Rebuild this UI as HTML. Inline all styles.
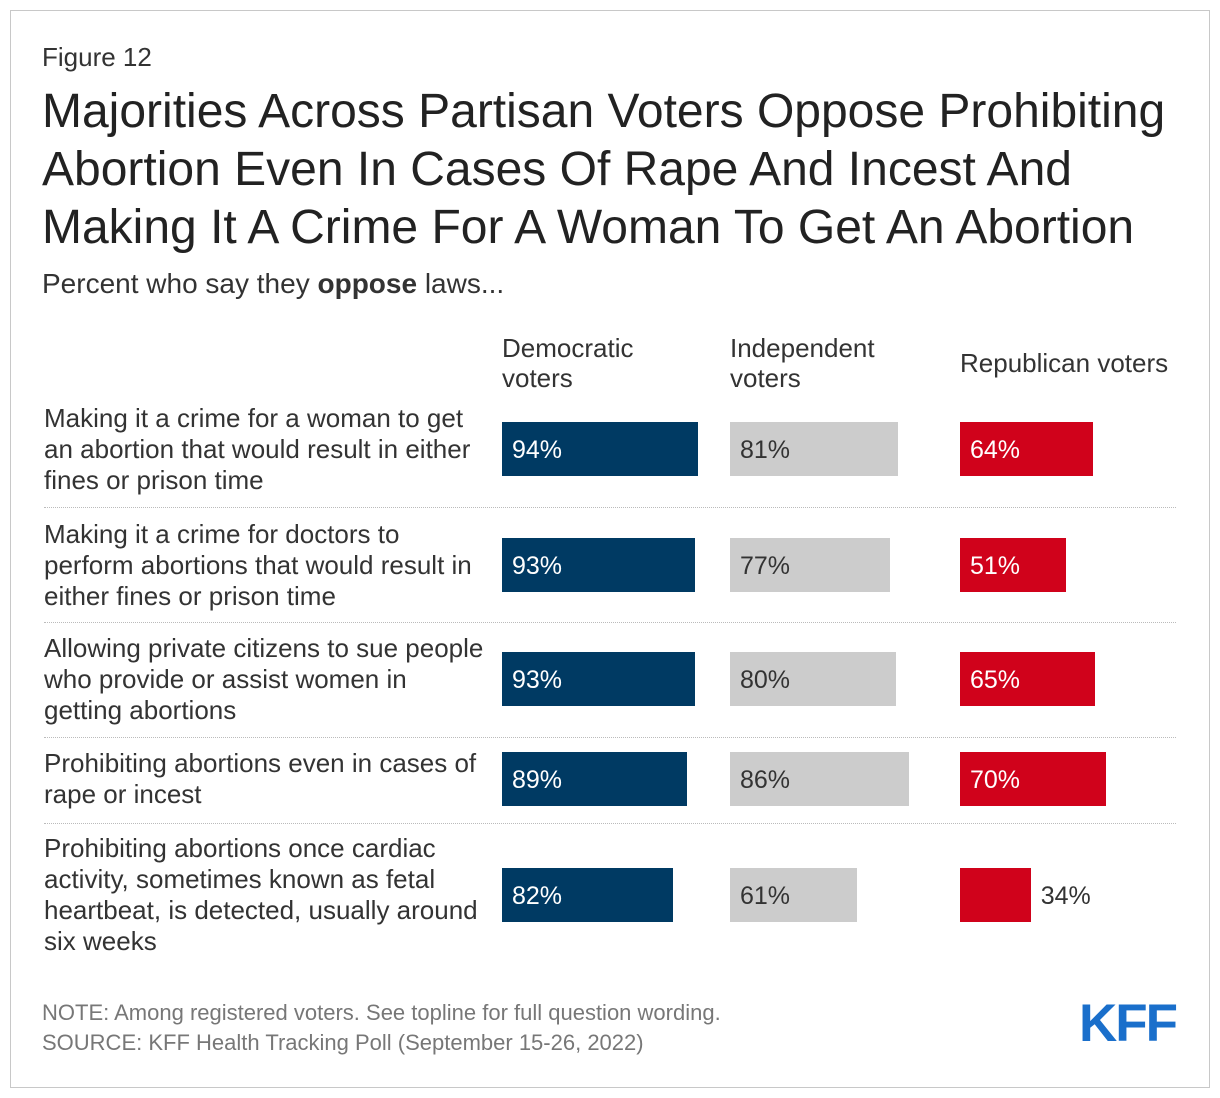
<!DOCTYPE html>
<html><head><meta charset="utf-8">
<style>
body{margin:0;background:#fff;font-family:"Liberation Sans",sans-serif;}
#frame{position:absolute;left:10px;top:10px;width:1198px;height:1076px;border:1px solid #c8c8c8;}
.t{position:absolute;color:#333;white-space:nowrap;}
.lab{position:absolute;left:44px;font-size:26px;line-height:31px;color:#333;white-space:nowrap;}
.bar{position:absolute;height:54px;}
.val{position:absolute;font-size:25px;line-height:54px;}
.sep{position:absolute;left:44px;width:1132px;border-top:1px dotted #bbb;height:0;}
</style></head><body>
<div id="frame"></div>
<div class="t" style="left:42px;top:42px;font-size:26px;">Figure 12</div>
<div class="t" style="left:42px;top:83px;font-size:48px;line-height:58px;color:#222;">Majorities Across Partisan Voters Oppose Prohibiting<br>Abortion Even In Cases Of Rape And Incest And<br>Making It A Crime For A Woman To Get An Abortion</div>
<div class="t" style="left:42px;top:268px;font-size:28px;">Percent who say they <b>oppose</b> laws...</div>
<div class="t" style="left:502px;top:333px;font-size:26px;line-height:30px;">Democratic<br>voters</div>
<div class="t" style="left:730px;top:333px;font-size:26px;line-height:30px;">Independent<br>voters</div>
<div class="t" style="left:960px;top:348px;font-size:26px;line-height:30px;">Republican voters</div>
<div id="chart"></div>
<div class="t" style="left:42px;top:998px;font-size:22px;line-height:30px;color:#777;">NOTE: Among registered voters. See topline for full question wording.<br>SOURCE: KFF Health Tracking Poll (September 15-26, 2022)</div>
<div class="t" style="left:1079px;top:993px;font-size:53px;font-weight:bold;color:#1a6fcb;letter-spacing:-2px;">KFF</div>
<script>
const categories=["Making it a crime for a woman to get<br>an abortion that would result in either<br>fines or prison time","Making it a crime for doctors to<br>perform abortions that would result in<br>either fines or prison time","Allowing private citizens to sue people<br>who provide or assist women in<br>getting abortions","Prohibiting abortions even in cases of<br>rape or incest","Prohibiting abortions once cardiac<br>activity, sometimes known as fetal<br>heartbeat, is detected, usually around<br>six weeks"];
const dem=[94,93,93,89,82];
const ind=[81,77,80,86,61];
const rep=[64,51,65,70,34];
const series=[{name:"dem",vals:dem,x0:502,color:"#003a63",txt:"#fff"},{name:"ind",vals:ind,x0:730,color:"#cccccc",txt:"#333"},{name:"rep",vals:rep,x0:960,color:"#d0021b",txt:"#fff"}];
const centers=[449,565,679,779,895];
const seps=[507,622,737,823];
const pxPer=2.08;
const c=document.getElementById('chart');
categories.forEach((cat,i)=>{
  const lines=cat.split('<br>').length;
  const l=document.createElement('div');
  l.className='lab';
  
  
  l.innerHTML=cat;
  l.style.top=(centers[i]-lines*31/2)+'px';
  c.appendChild(l);
  series.forEach(s=>{
    const v=s.vals[i];const w=v*pxPer;
    const b=document.createElement('div');
    b.className='bar';
    
    
    b.style.left=s.x0+'px';b.style.width=w+'px';b.style.top=(centers[i]-27)+'px';b.style.background=s.color;
    c.appendChild(b);
    const t=document.createElement('div');
    t.className='val';
    
    
    t.textContent=v+'%';
    t.style.top=(centers[i]-26)+'px';
    if(w>90){t.style.left=(s.x0+10)+'px';t.style.color=s.txt;}
    else{t.style.left=(s.x0+w+10)+'px';t.style.color='#333';}
    c.appendChild(t);
  });
});
seps.forEach(y=>{
  const d=document.createElement('div');
  d.className='sep';
  
  
  d.style.top=y+'px';c.appendChild(d);
});
</script>
</body></html>
